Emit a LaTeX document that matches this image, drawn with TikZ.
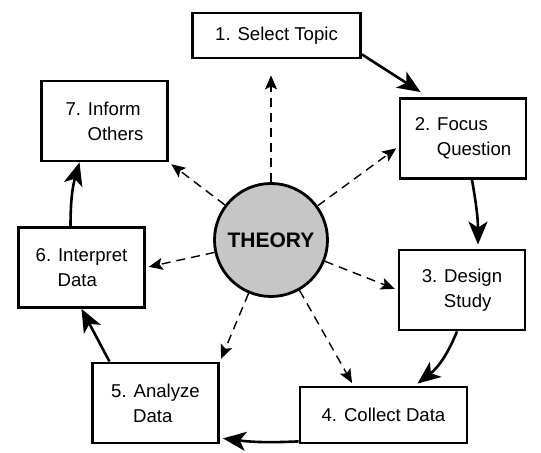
\documentclass[tikz,border=0pt]{standalone}
\usepackage{fontspec}
\setmainfont{Liberation Sans}
\usetikzlibrary{arrows.meta}
\newcommand{\ind}{\hspace*{11pt}}

\begin{document}
\begin{tikzpicture}[x=0.5pt, y=0.5pt,
  stepbox/.style={draw, line width=1.4pt, fill=white, align=left, inner sep=0pt,
    minimum width=63pt, minimum height=40pt, font=\fontsize{9.3}{12.5}\selectfont},
  cycle/.style={line width=1.3pt, -{Stealth[length=11.5pt, width=9.5pt, inset=3pt]}},
  dashto/.style={line width=0.7pt, dash pattern=on 4.5pt off 3pt,
    -{Stealth[length=7pt, width=6pt, inset=1.5pt]}, shorten >=1.5pt}]
  \useasboundingbox (0, 0) rectangle (541, 453);
  \node[draw, circle, line width=1.4pt, fill=gray!45, minimum size=56.5pt, inner sep=0pt,
    font=\fontsize{10.5}{12}\bfseries] (theory) at (271, 213) {THEORY};
  \node[stepbox, minimum width=84pt, minimum height=22.5pt] (sel) at (276.5, 417.5) {1. Select Topic};
  \node[stepbox] (focus) at (463, 314.5) {2. Focus\\\ind Question};
  \node[stepbox] (design) at (462, 163) {3. Design\\\ind Study};
  \node[stepbox, minimum width=83.5pt, minimum height=28pt] (collect) at (383.5, 38) {4. Collect Data};
  \node[stepbox] (analyze) at (155.5, 50) {5. Analyze\\\ind Data};
  \node[stepbox] (interp) at (81.5, 185.5) {6. Interpret\\\ind Data};
  \node[stepbox] (inform) at (104.5, 332) {7. Inform\\\ind Others};
  \draw[cycle] ([yshift=2.5pt]sel.south east) -- ([xshift=11pt, yshift=2.5pt]focus.north west);
  \draw[cycle] ([xshift=4.5pt]focus.south) to[out=-80, in=90] ([xshift=8pt, yshift=2pt]design.north);
  \draw[cycle] ([xshift=-2.5pt]design.south) to[bend left=15] ([xshift=17pt, yshift=1pt]collect.north);
  \draw[cycle] ([yshift=1.5pt]collect.south west) to[bend left=5] ([xshift=1.5pt, yshift=3pt]analyze.south east);
  \draw[cycle] ([xshift=-23pt]analyze.north) -- (interp.south);
  \draw[cycle] ([xshift=-5.5pt]interp.north) to[bend left=8] ([xshift=-12.5pt]inform.south);
  \draw[dashto, shorten >=8pt] (theory) -- (sel.south -| theory);
  \foreach \tgt in {inform.south east, interp.east, design.west, analyze.north east} {
    \draw[dashto] (theory) -- (\tgt);
  }
  \draw[dashto] (theory) -- ([yshift=-4pt]focus.west);
  \draw[dashto] (theory) -- ([xshift=-15pt]collect.north);
\end{tikzpicture}
\end{document}
